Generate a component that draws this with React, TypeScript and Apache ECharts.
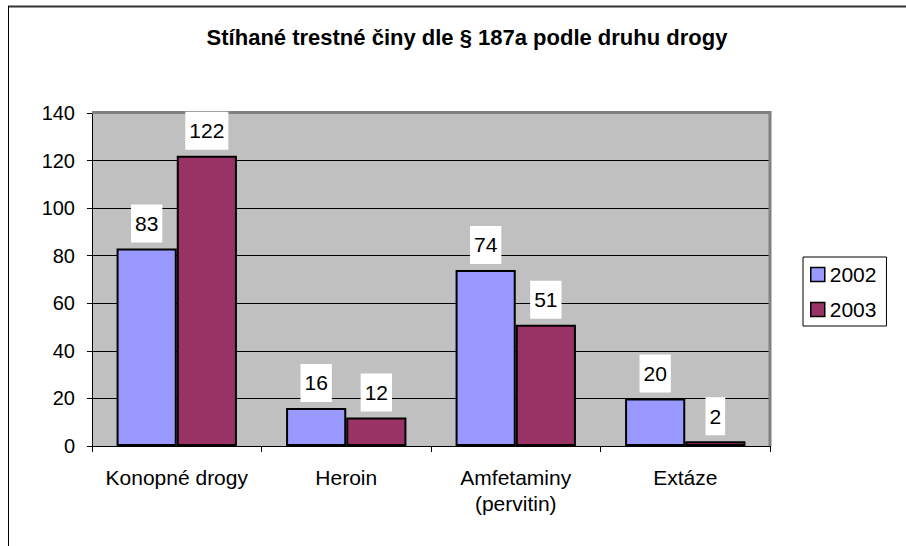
import React, { useEffect, useRef } from "react";
import * as echarts from "echarts";

const titleText = "Stíhané trestné činy dle § 187a podle druhu drogy";
const categories = ["Konopné drogy", "Heroin", "Amfetaminy\n(pervitin)", "Extáze"];
const seriesNames = ["2002", "2003"];
const values2002 = [83, 16, 74, 20];
const values2003 = [122, 12, 51, 2];
const seriesColors = ["#9999FF", "#993366"];

const FONT = "'Liberation Sans', Arial, sans-serif";

export default function App() {
  const ref = useRef<HTMLDivElement>(null);
  useEffect(() => {
    if (!ref.current) return;
    const chart = echarts.init(ref.current, null, { renderer: "svg" });
    const label = {
      show: true,
      position: "top",
      distance: 6,
      color: "#000",
      fontSize: 21,
      fontFamily: FONT,
      lineHeight: 22,
      backgroundColor: "#fff",
      padding: [8, 4],
    };
    chart.setOption({
      animation: false,
      backgroundColor: "#fff",
      title: {
        text: titleText,
        left: 467,
        top: 26,
        textAlign: "center",
        padding: 0,
        textStyle: { fontSize: 22, fontWeight: "bold", color: "#000", fontFamily: FONT },
      },
      legend: {
        orient: "vertical",
        left: 803,
        top: 257,
        padding: [7, 10, 6, 7],
        itemWidth: 14,
        itemHeight: 14,
        itemGap: 14,
        backgroundColor: "#fff",
        borderColor: "#000",
        borderWidth: 1,
        icon: "rect",
        itemStyle: { borderColor: "#000", borderWidth: 1.5 },
        textStyle: { fontSize: 21, lineHeight: 20, color: "#000", fontFamily: FONT, padding: [0, 0, 0, 0] },
        data: seriesNames,
      },
      grid: {
        left: 92,
        top: 113,
        right: 136,
        bottom: 100,
        show: true,
        backgroundColor: "#C0C0C0",
        borderWidth: 0,
      },
      xAxis: {
        type: "category",
        data: categories,
        boundaryGap: true,
        axisLine: { lineStyle: { color: "#000", width: 1 } },
        axisTick: { show: true, length: 6, lineStyle: { color: "#000" } },
        axisLabel: { color: "#000", fontSize: 21, lineHeight: 26, margin: 18, fontFamily: FONT, interval: 0 },
      },
      yAxis: {
        type: "value",
        min: 0,
        max: 140,
        interval: 20,
        axisLine: { show: true, lineStyle: { color: "#000", width: 1 } },
        axisTick: { show: true, length: 5, lineStyle: { color: "#000" } },
        axisLabel: { color: "#000", fontSize: 20, margin: 17, fontFamily: FONT },
        splitLine: { show: true, lineStyle: { color: "#000", width: 1 } },
      },
      series: [
        {
          name: seriesNames[0],
          type: "bar",
          data: values2002,
          barGap: "0%",
          barCategoryGap: "29%",
          itemStyle: { color: seriesColors[0], borderColor: "#000", borderWidth: 2 },
          label,
          z: 2,
        },
        {
          name: seriesNames[1],
          type: "bar",
          data: values2003,
          barGap: "0%",
          barCategoryGap: "29%",
          itemStyle: { color: seriesColors[1], borderColor: "#000", borderWidth: 2 },
          label,
          z: 2,
        },
      ],
      graphic: [
        {
          type: "line",
          shape: { x1: 8, y1: 6.5, x2: 906, y2: 6.5 },
          style: { stroke: "#333", lineWidth: 2 },
          silent: true,
        },
        {
          type: "line",
          shape: { x1: 8.5, y1: 6, x2: 8.5, y2: 546 },
          style: { stroke: "#000", lineWidth: 1 },
          silent: true,
        },
        {
          type: "line",
          shape: { x1: 92, y1: 112.5, x2: 771, y2: 112.5 },
          style: { stroke: "#808080", lineWidth: 3 },
          silent: true,
          z: 1,
        },
        {
          type: "line",
          shape: { x1: 770, y1: 111, x2: 770, y2: 446 },
          style: { stroke: "#808080", lineWidth: 3 },
          silent: true,
          z: 1,
        },
      ],
    });
    return () => chart.dispose();
  }, []);
  return (
    <div
      ref={ref}
      style={{ position: "absolute", left: 0, top: 0, width: 906, height: 546 }}
    />
  );
}
